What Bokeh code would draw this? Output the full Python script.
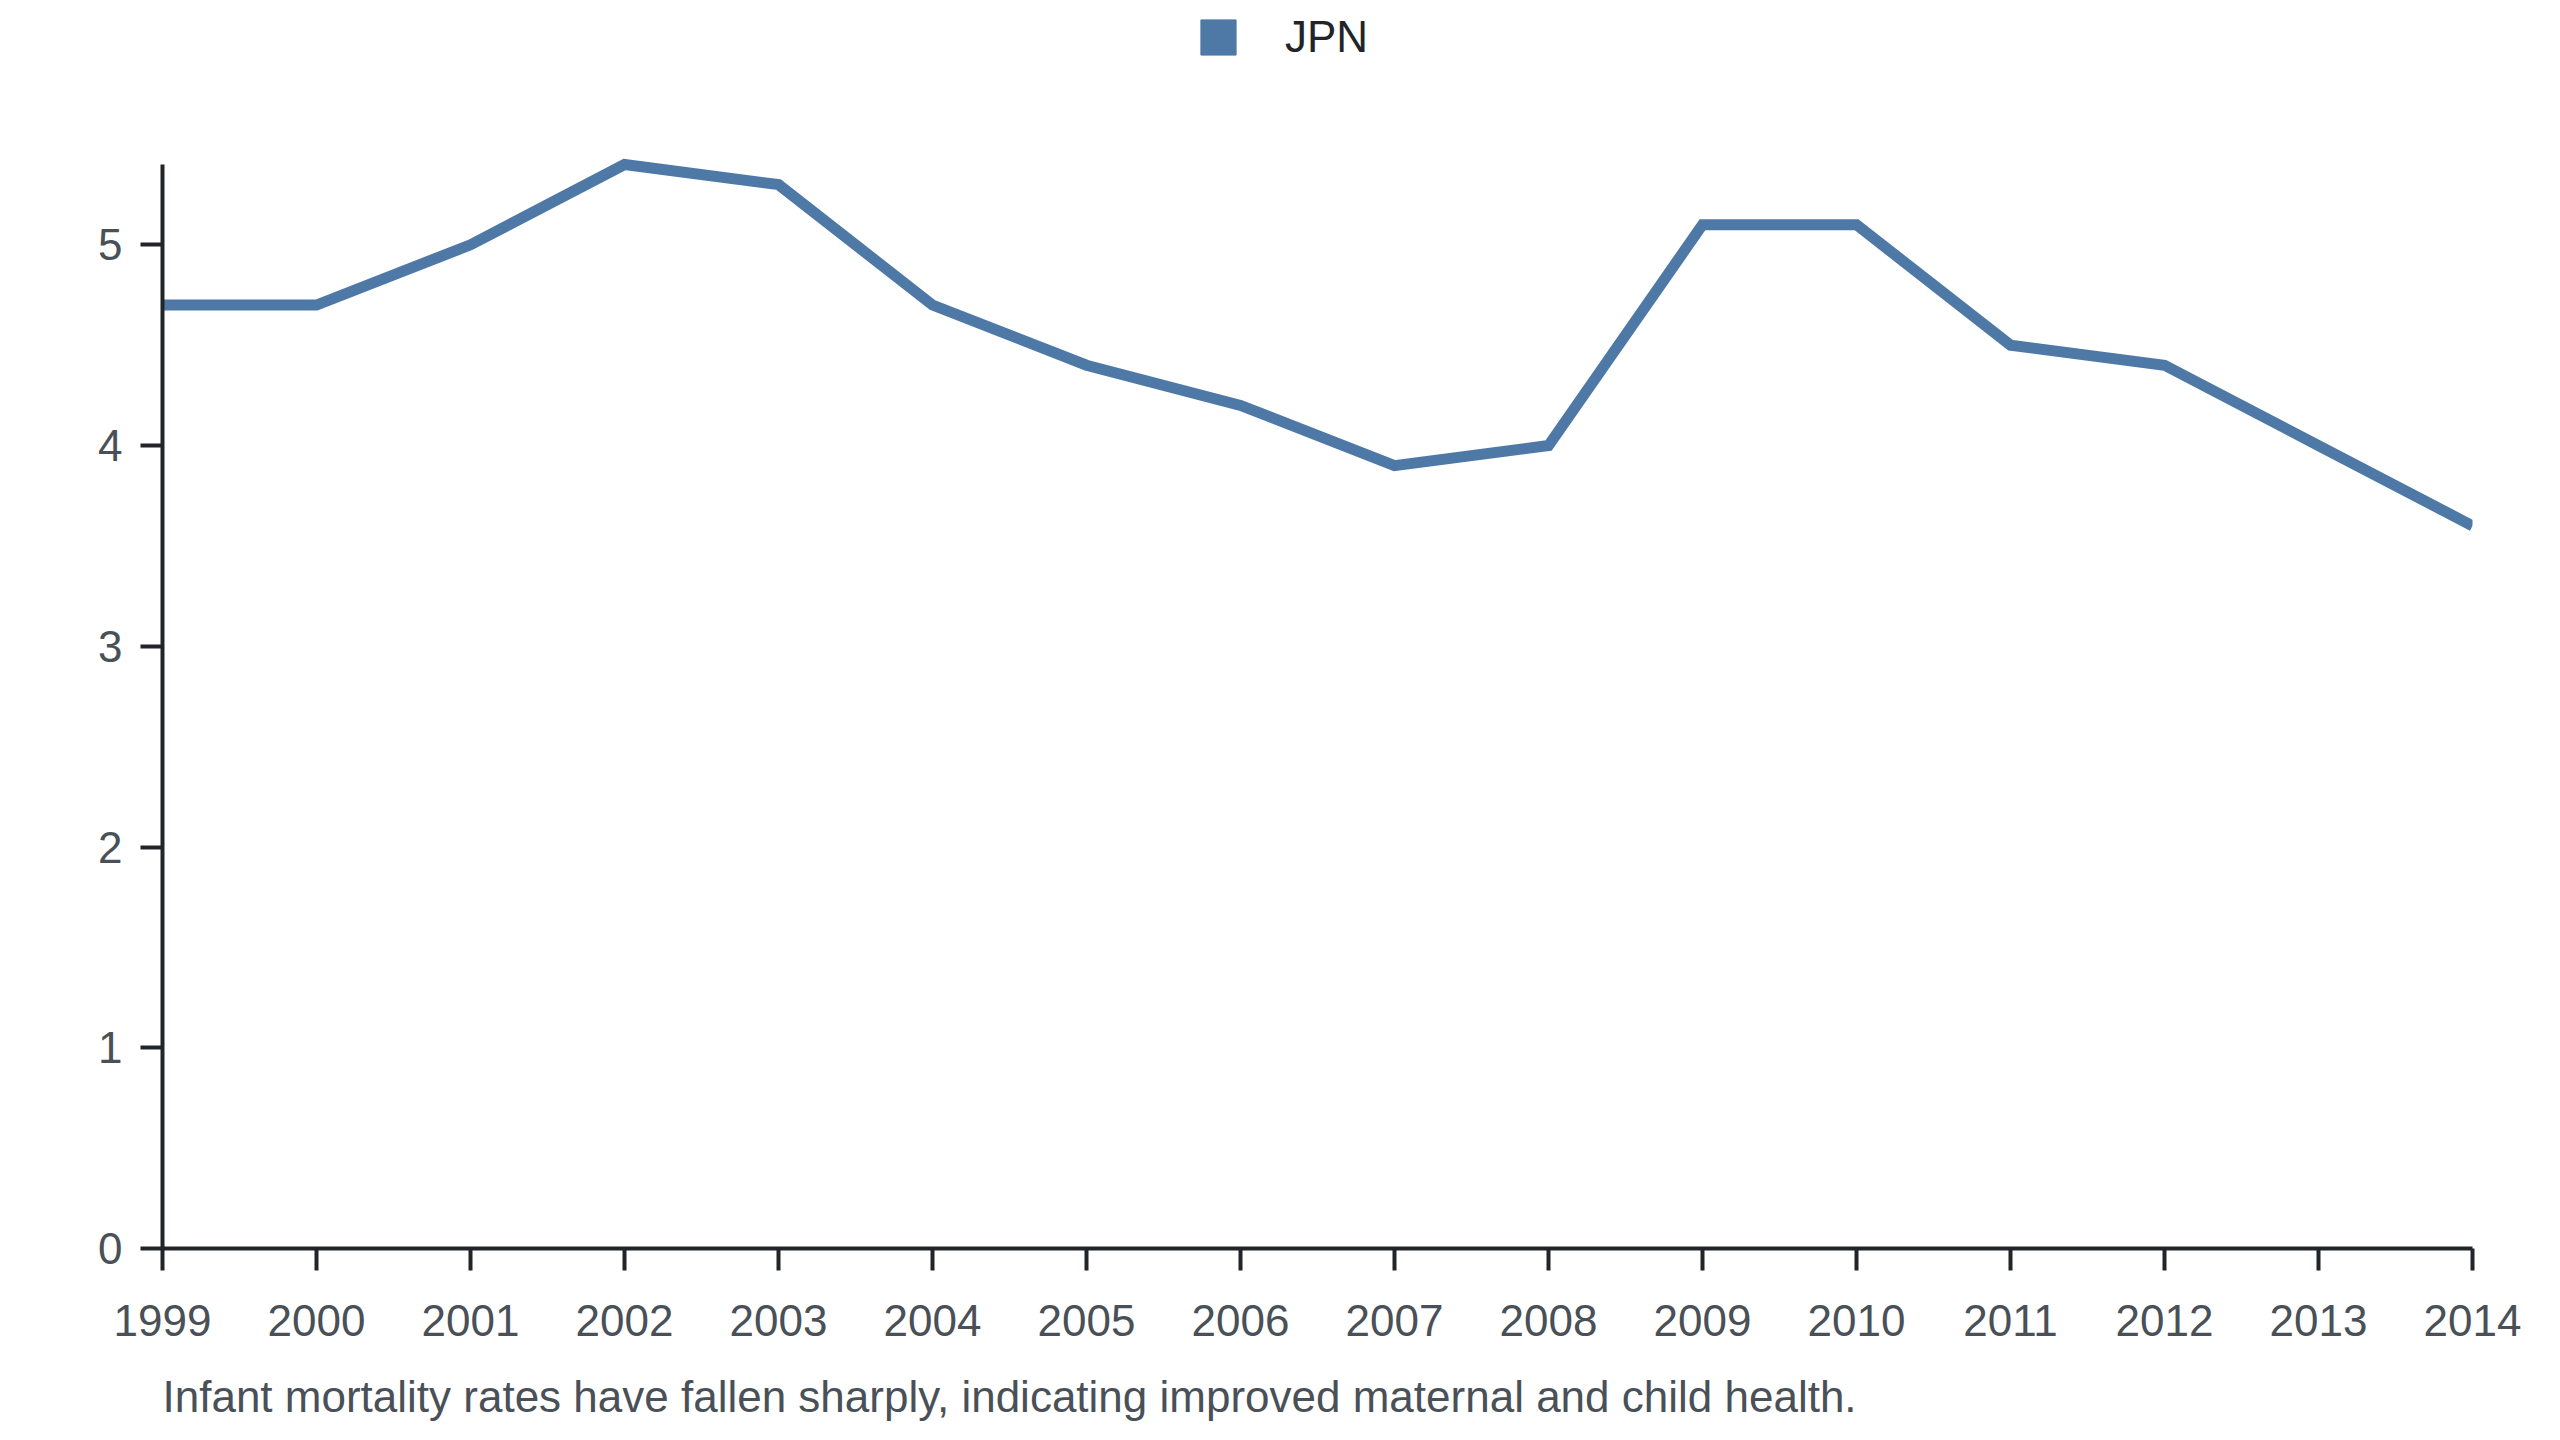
from bokeh.plotting import figure
from bokeh.models import Range1d, FixedTicker, Legend, LegendItem, Title, ColumnDataSource
from bokeh.embed import file_html
from bokeh.resources import INLINE

years = [1999, 2000, 2001, 2002, 2003, 2004, 2005, 2006, 2007, 2008, 2009, 2010, 2011, 2012, 2013, 2014]
jpn = [4.7, 4.7, 5.0, 5.4, 5.3, 4.7, 4.4, 4.2, 3.9, 4.0, 5.1, 5.1, 4.5, 4.4, 4.0, 3.6]
y_ticks = [0, 1, 2, 3, 4, 5]
y_axis_max = 5.4
series_name = "JPN"
caption = "Infant mortality rates have fallen sharply, indicating improved maternal and child health."

FONT = "Liberation Sans"
LINE_COLOR = "#4e79a7"
AXIS_COLOR = "#212529"
TICK_TEXT = "#495057"

# frame spans to the top of the canvas so the legend (drawn in the frame) is not clipped;
# the y axis line itself is bounded to 0..5.4
FRAME_H = 1248
PX_PER_UNIT = 200.74
p = figure(frame_width=2310, frame_height=FRAME_H,
           min_border_left=162, min_border_top=0, min_border_right=72, min_border_bottom=176,
           x_range=Range1d(1999, 2014), y_range=Range1d(0, FRAME_H / PX_PER_UNIT),
           output_backend="svg", toolbar_location=None)
p.outline_line_color = None
p.xgrid.grid_line_color = None
p.ygrid.grid_line_color = None
p.background_fill_color = "white"
p.border_fill_color = "white"

src = ColumnDataSource(dict(x=years, y=jpn))
line_r = p.line("x", "y", source=src, line_color=LINE_COLOR, line_width=11, line_join="miter")

# hidden helper renderer only used for the square legend swatch
swatch = p.vbar(x="x", top="y", width=0, source=src, fill_color=LINE_COLOR,
                line_color=LINE_COLOR, visible=False)

for ax in (p.xaxis[0], p.yaxis[0]):
    ax.axis_line_color = AXIS_COLOR
    ax.axis_line_width = 4
    ax.major_tick_line_color = AXIS_COLOR
    ax.major_tick_line_width = 4
    ax.major_tick_out = 22
    ax.major_tick_in = 0
    ax.minor_tick_line_color = None
    ax.major_label_text_font = FONT
    ax.major_label_text_font_size = "44px"
    ax.major_label_text_color = TICK_TEXT

p.xaxis[0].major_label_standoff = 34
p.yaxis[0].major_label_standoff = 18
p.xaxis[0].ticker = FixedTicker(ticks=years)
p.yaxis[0].ticker = FixedTicker(ticks=y_ticks)
p.yaxis[0].bounds = (0, y_axis_max)

legend = Legend(items=[LegendItem(label=series_name, renderers=[swatch])],
                location=(1034, 1186), orientation="horizontal",
                glyph_width=44, glyph_height=44, label_standoff=45,
                label_text_font=FONT, label_text_font_size="44px", label_text_color="#212529",
                border_line_color=None, background_fill_alpha=0, padding=0, margin=0,
                label_height=44, click_policy="none")
p.add_layout(legend, "center")

cap = Title(text=caption, align="left", text_font=FONT, text_font_size="44px",
            text_color=TICK_TEXT, text_font_style="normal", standoff=62, offset=0)
p.add_layout(cap, "below")

open("out.html", "w").write(file_html(p, INLINE))
